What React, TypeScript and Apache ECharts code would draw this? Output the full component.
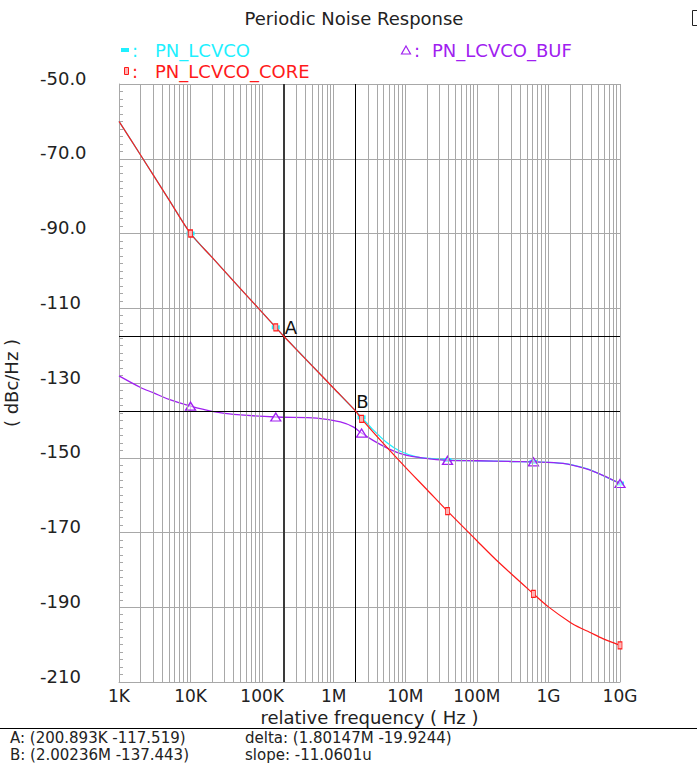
import React, { useEffect, useRef } from "react";
import * as echarts from "echarts";

const FONT = "'DejaVu Sans', sans-serif";

// x tick labels (decades 1K .. 10G)
const tickLabels = ["1K", "10K", "100K", "1M", "10M", "100M", "1G", "10G"];

// frequencies where the markers are drawn
const markerFreqs = [1e4, 1.55e5, 2.45e6, 3.89e7, 6.17e8, 1e10];

// PN_LCVCO_CORE (red)
const coreFreq = [
  1e3, 2e3, 5e3, 1e4, 2e4, 5e4, 1e5, 1.55e5, 2.00893e5, 5e5, 1e6, 2.00236e6,
  2.45e6, 5e6, 1e7, 2e7, 3.89e7, 1e8, 2e8, 6.17e8, 1e9, 2e9, 2.9e9, 3.7e9,
  5.75e9, 1e10,
];
const coreValues = [
  -60.0, -69.0, -81.0, -90.0, -96.4, -104.8, -111.1, -115.1, -117.5, -125.4,
  -131.4, -137.4, -139.6, -146.3, -152.5, -158.5, -164.3, -172.2, -177.9,
  -186.4, -189.9, -194.0, -195.7, -196.6, -198.4, -200.2,
];

// PN_LCVCO (cyan)
const lcvcoFreq = [
  1e3, 2e3, 5e3, 1e4, 2e4, 5e4, 1e5, 1.55e5, 2.00893e5, 5e5, 1e6, 2.00236e6,
  2.45e6, 3.5e6, 5.5e6, 8.4e6, 1.44e7, 2.2e7, 3.89e7, 1e8, 3e8, 6.17e8, 1.6e9,
  3.4e9, 5.75e9, 1e10,
];
const lcvcoValues = [
  -60.0, -69.0, -81.0, -90.0, -96.4, -104.8, -111.1, -115.1, -117.5, -125.4,
  -131.4, -137.4, -139.2, -142.4, -145.9, -148.2, -149.8, -150.2, -150.6,
  -150.8, -151.0, -151.1, -151.5, -152.9, -154.7, -156.9,
];

// PN_LCVCO_BUF (purple)
const bufFreq = [
  1e3, 2e3, 3e3, 5e3, 1e4, 2e4, 4e4, 1.55e5, 5.8e5, 1.24e6, 1.9e6, 2.45e6,
  3.5e6, 5.7e6, 9.3e6, 1.8e7, 3.89e7, 1e8, 3e8, 6.17e8, 1.6e9, 3.4e9, 5.75e9,
  1e10,
];
const bufValues = [
  -128.1, -131.2, -132.6, -134.4, -136.2, -137.6, -138.4, -139.1, -139.4,
  -140.4, -141.8, -143.4, -145.3, -147.5, -149.1, -150.1, -150.7, -150.8,
  -151.0, -151.1, -151.5, -153.0, -154.7, -156.9,
];

// markers A and B
const markerA = { f: 200893, v: -117.519 };
const markerB = { f: 2002360, v: -137.443 };

const CYAN = "#1ff0ff";
const RED = "#ff1a1a";
const PURPLE = "#a020f0";
const GRID = "#a8a8a8";

function minorGridFreqs(): number[] {
  const out: number[] = [];
  for (let d = 3; d < 10; d++) {
    for (let k = 2; k <= 9; k++) out.push(k * Math.pow(10, d));
  }
  return out;
}

function buildData(fs: number[], vs: number[]) {
  return fs.map((f, i) =>
    markerFreqs.includes(f)
      ? { value: [f, vs[i]] }
      : { value: [f, vs[i]], symbol: "none" }
  );
}

export default function App() {
  const ref = useRef<HTMLDivElement>(null);

  useEffect(() => {
    if (!ref.current) return;
    const chart = echarts.init(ref.current, undefined, { renderer: "svg" });

    const bottomText = (text: string, x: number, y: number) => ({
      type: "text",
      x,
      y,
      style: { text, font: `15px ${FONT}`, lineHeight: 16, fill: "#222", verticalAlign: "middle" },
    });

    const option: any = {
      animation: false,
      backgroundColor: "#ffffff",
      textStyle: { fontFamily: FONT },
      grid: { left: 119, right: 77, top: 84, bottom: 81, containLabel: false, outerBoundsMode: "none" },
      xAxis: {
        type: "log",
        logBase: 10,
        min: 1e3,
        max: 1e10,
        name: "relative frequency ( Hz )",
        nameLocation: "middle",
        nameGap: 21,
        nameTextStyle: { fontSize: 18, color: "#222", fontFamily: FONT },
        axisLine: { show: true, lineStyle: { color: GRID, width: 1 } },
        axisTick: { show: false },
        splitLine: { show: true, lineStyle: { color: GRID, width: 1 } },
        axisLabel: {
          color: "#222",
          fontSize: 17,
          fontFamily: FONT,
          margin: 5,
          formatter: (v: number) => tickLabels[Math.round(Math.log10(v)) - 3] ?? "",
        },
      },
      yAxis: {
        type: "value",
        min: -210,
        max: -50,
        interval: 20,
        name: "( dBc/Hz )",
        nameLocation: "middle",
        nameRotate: 90,
        nameGap: 99,
        nameTextStyle: { fontSize: 18, color: "#222", fontFamily: FONT },
        axisLine: { show: true, lineStyle: { color: GRID, width: 1 } },
        axisTick: { show: true, inside: true, length: 4, lineStyle: { color: GRID } },
        minorTick: { show: true, splitNumber: 10, length: 4, lineStyle: { color: GRID } },
        splitLine: { show: true, lineStyle: { color: GRID, width: 1 } },
        axisLabel: {
          color: "#222",
          fontSize: 18,
          fontFamily: FONT,
          align: "left",
          margin: 79,
          verticalAlign: "bottom",
          lineHeight: 12,
          formatter: (v: number) => (Math.abs(v) < 100 ? v.toFixed(1) : String(v)),
        },
      },
      series: [
        {
          type: "line",
          data: [],
          z: 1,
          silent: true,
          markLine: {
            silent: true,
            symbol: ["none", "none"],
            label: { show: false },
            lineStyle: { color: GRID, type: "solid", width: 1 },
            data: minorGridFreqs().map((f) => ({ xAxis: f })),
          },
        },
        {
          type: "line",
          name: "PN_LCVCO",
          data: buildData(lcvcoFreq, lcvcoValues),
          z: 3,
          smooth: 0.3,
          symbol: "rect",
          symbolSize: [8, 4],
          showSymbol: true,
          showAllSymbol: true,
          itemStyle: { color: CYAN },
          lineStyle: { color: CYAN, width: 1.3 },
        },
        {
          type: "line",
          name: "PN_LCVCO_BUF",
          data: buildData(bufFreq, bufValues),
          z: 4,
          smooth: 0.3,
          symbol: "triangle",
          symbolSize: [10, 8],
          showSymbol: true,
          showAllSymbol: true,
          itemStyle: { color: "rgba(255,255,255,0.5)", borderColor: PURPLE, borderWidth: 1.3 },
          lineStyle: { color: PURPLE, width: 1.3 },
        },
        {
          type: "line",
          name: "PN_LCVCO_CORE",
          data: buildData(coreFreq, coreValues),
          z: 5,
          smooth: 0.3,
          symbol: "rect",
          symbolSize: [4, 7],
          showSymbol: true,
          showAllSymbol: true,
          itemStyle: { color: "#ffb4b4", borderColor: RED, borderWidth: 1 },
          lineStyle: { color: RED, width: 1.2 },
        },
        {
          type: "line",
          data: [],
          z: 6,
          silent: true,
          markLine: {
            silent: true,
            symbol: ["none", "none"],
            label: { show: false },
            lineStyle: { color: "#000", type: "solid", width: 1 },
            data: [
              { xAxis: markerA.f, lineStyle: { color: "#3a3a3a", width: 2, type: "solid" } },
              { yAxis: markerA.v },
              { xAxis: markerB.f },
              { yAxis: markerB.v },
            ],
          },
          markPoint: {
            silent: true,
            symbol: "circle",
            symbolSize: 0,
            itemStyle: { color: "transparent" },
            label: {
              show: true,
              position: "right",
              distance: 1,
              offset: [0, -9],
              fontSize: 18,
              color: "#111",
              fontFamily: FONT,
              formatter: (p: any) => p.name,
            },
            data: [
              { name: "A", coord: [markerA.f, markerA.v] },
              { name: "B", coord: [markerB.f, markerB.v] },
            ],
          },
        },
      ],
      graphic: [
        {
          type: "text",
          x: 354,
          y: 18,
          style: {
            text: "Periodic Noise Response",
            font: `18px ${FONT}`,
            fill: "#222",
            align: "center",
            verticalAlign: "middle",
          },
        },
        {
          type: "rect",
          shape: { x: 692.5, y: 10.5, width: 12, height: 15 },
          style: { fill: "none", stroke: "#222", lineWidth: 1 },
        },
        // legend: PN_LCVCO
        { type: "rect", shape: { x: 121, y: 48, width: 8, height: 4 }, style: { fill: CYAN } },
        { type: "text", x: 132, y: 50, style: { text: ":", font: `18px ${FONT}`, fill: CYAN, verticalAlign: "middle" } },
        { type: "text", x: 155, y: 50, style: { text: "PN_LCVCO", font: `18px ${FONT}`, fill: CYAN, verticalAlign: "middle" } },
        // legend: PN_LCVCO_CORE
        { type: "rect", shape: { x: 124.5, y: 67.5, width: 4, height: 7 }, style: { fill: "#ffb4b4", stroke: RED, lineWidth: 1 } },
        { type: "text", x: 132, y: 71, style: { text: ":", font: `18px ${FONT}`, fill: RED, verticalAlign: "middle" } },
        { type: "text", x: 155, y: 71, style: { text: "PN_LCVCO_CORE", font: `18px ${FONT}`, fill: RED, verticalAlign: "middle" } },
        // legend: PN_LCVCO_BUF
        { type: "polygon", shape: { points: [[406, 46], [410.5, 54], [401.5, 54]] }, style: { fill: "none", stroke: PURPLE, lineWidth: 1.2 } },
        { type: "text", x: 414, y: 50, style: { text: ":", font: `18px ${FONT}`, fill: PURPLE, verticalAlign: "middle" } },
        { type: "text", x: 432, y: 50, style: { text: "PN_LCVCO_BUF", font: `18px ${FONT}`, fill: PURPLE, verticalAlign: "middle" } },
        // bottom marker readout
        { type: "line", shape: { x1: 0, y1: 728.5, x2: 697, y2: 728.5 }, style: { stroke: "#000", lineWidth: 1 } },
        bottomText("A: (200.893K -117.519)", 10, 738),
        bottomText("delta: (1.80147M -19.9244)", 245, 738),
        bottomText("B: (2.00236M -137.443)", 10, 755),
        bottomText("slope: -11.0601u", 245, 755),
      ],
    };

    chart.setOption(option);
    return () => chart.dispose();
  }, []);

  return (
    <div
      ref={ref}
      style={{ position: "absolute", left: 0, top: 0, width: 697, height: 763, background: "#fff" }}
    />
  );
}
